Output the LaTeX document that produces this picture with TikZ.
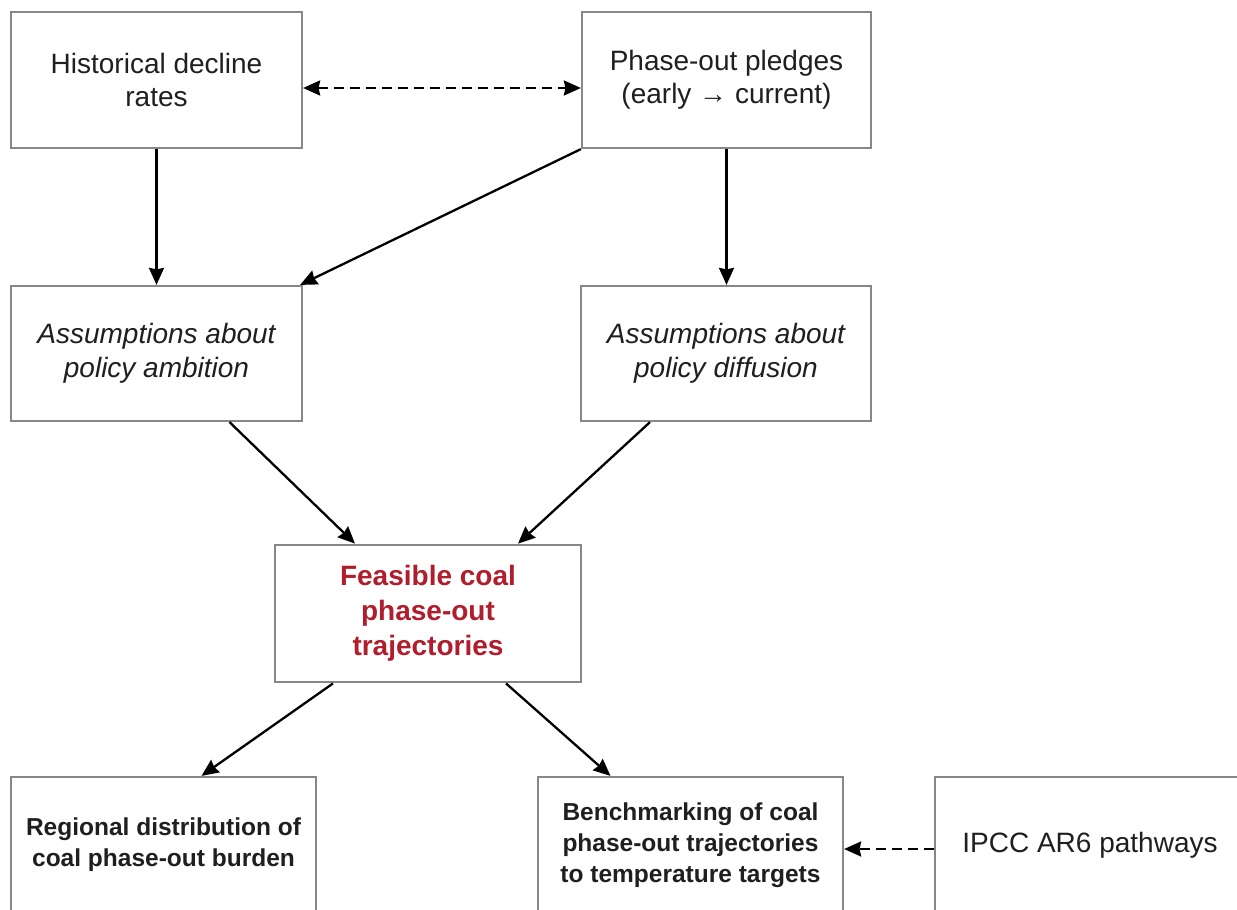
\documentclass[tikz,border=0pt]{standalone}
\usepackage{fontspec}
\setmainfont{Liberation Sans}
\usetikzlibrary{arrows.meta}
\definecolor{boxgray}{RGB}{135,135,135}
\definecolor{titlered}{RGB}{176,30,45}
\tikzset{
  box/.style={draw=boxgray, line width=2.2pt, fill=white, inner sep=0pt, align=center,
    font=\fontsize{28}{33}\selectfont, text=black!88},
  ibox/.style={box, font=\fontsize{28}{34}\selectfont\itshape},
  bbox/.style={box, font=\fontsize{24.5}{31}\selectfont\bfseries},
  cbox/.style={box, line width=2.8pt, text=titlered, font=\fontsize{28}{35}\selectfont\bfseries},
  tip/.tip={Stealth[length=17pt,width=15pt,inset=1.5pt]},
  conn/.style={line width=2.3pt, -tip},
  dconn/.style={line width=2.2pt, dash pattern=on 10pt off 6pt, tip-tip},
  dconnl/.style={line width=2.2pt, dash pattern=on 10pt off 6pt, -tip}
}
\begin{document}
\begin{tikzpicture}[x=1pt,y=-1pt]
\useasboundingbox (0,0) rectangle (1237,910);
\clip (0,0) rectangle (1237,910);
\node[box, minimum width=291pt, minimum height=136pt] (hist) at (156.5,80) {Historical decline\\rates};
\node[box, minimum width=289pt, minimum height=136pt] (pledge) at (726.5,80) {Phase-out pledges\\(early \(\)→ current)};
\node[ibox, minimum width=291pt, minimum height=135pt] (amb) at (156.5,353.5) {Assumptions about\\policy ambition};
\node[ibox, minimum width=290pt, minimum height=135pt] (diff) at (726,353.5) {Assumptions about\\policy diffusion};
\node[cbox, minimum width=306pt, minimum height=137pt] (feas) at (428,613.5) {Feasible coal\\phase-out\\trajectories};
\node[bbox, minimum width=305pt, minimum height=136pt] (reg) at (163.5,845) {Regional distribution of\\coal phase-out burden};
\node[bbox, minimum width=305pt, minimum height=136pt] (bench) at (690.5,845) {Benchmarking of coal\\phase-out trajectories\\to temperature targets};
\node[box, minimum width=310pt, minimum height=136pt] (ipcc) at (1090,845) {IPCC AR6 pathways};

\draw[dconn] ([yshift=-8pt]hist.east) -- ([yshift=-8pt]pledge.west);
\draw[conn] (hist.south) -- (amb.north);
\draw[conn] (pledge.south west) -- ([xshift=-3pt]amb.north east);
\draw[conn] (pledge.south) -- (pledge.south |- diff.north);
\draw[conn] ([xshift=73pt]amb.south) -- ([xshift=-73pt]feas.north);
\draw[conn] ([xshift=-76pt]diff.south) -- ([xshift=90pt]feas.north);
\draw[conn] ([xshift=-95pt]feas.south) -- ([xshift=38pt]reg.north);
\draw[conn] ([xshift=78pt]feas.south) -- ([xshift=-80pt]bench.north);
\draw[dconnl] ([yshift=-4pt]ipcc.west) -- ([yshift=-4pt]bench.east);
\end{tikzpicture}
\end{document}
